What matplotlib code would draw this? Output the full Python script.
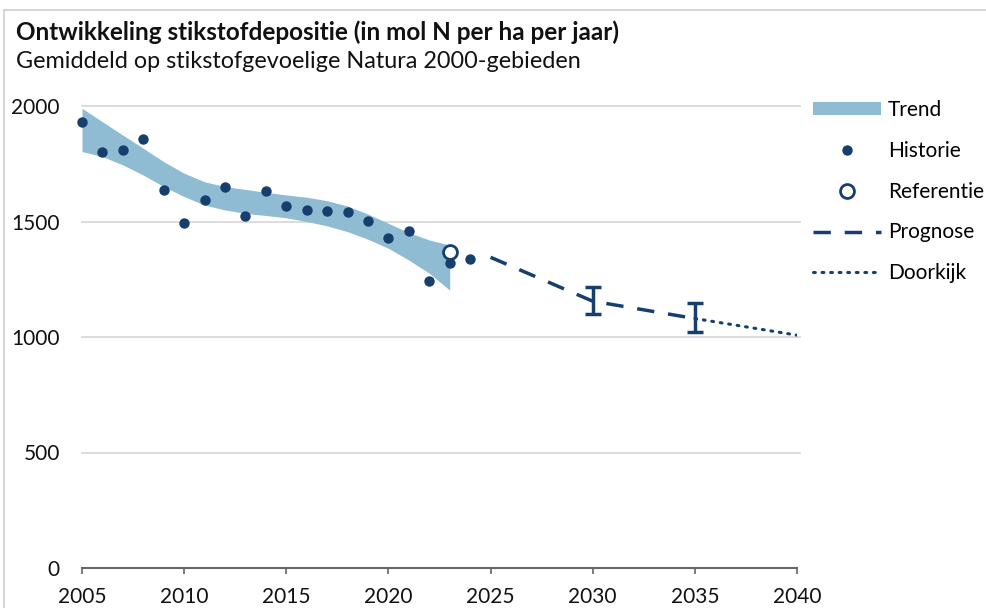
import numpy as np
import matplotlib.pyplot as plt
from matplotlib.lines import Line2D
from matplotlib.patches import Patch

plt.rcParams['font.family'] = ['Lato', 'DejaVu Sans']

# historie
hist_jaar = [2005, 2006, 2007, 2008, 2009, 2010, 2011, 2012, 2013, 2014, 2015,
             2016, 2017, 2018, 2019, 2020, 2021, 2022, 2023, 2024]
hist_waarde = [1929, 1802, 1810, 1856, 1638, 1495, 1593, 1649, 1525, 1631, 1566,
               1548, 1544, 1543, 1504, 1429, 1457, 1242, 1319, 1338]

# trendband
trend_jaar = list(range(2005, 2024))
trend_boven = [1990, 1932, 1874, 1817, 1759, 1709, 1672, 1651, 1639, 1626,
               1615, 1605, 1590, 1567, 1532, 1492, 1452, 1420, 1398]
trend_onder = [1803, 1781, 1745, 1701, 1651, 1608, 1571, 1550, 1535, 1526,
               1516, 1500, 1481, 1456, 1423, 1384, 1333, 1276, 1203]

# referentie
ref_jaar = [2023]
ref_waarde = [1369]

# prognose + onzekerheid
prog_jaar = [2025, 2030, 2035]
prog_waarde = [1345, 1155, 1080]
err_jaar = [2030, 2035]
err_midden = [1158, 1085]
err_laag = [1098, 1023]
err_hoog = [1218, 1148]

# doorkijk
door_jaar = [2035, 2040]
door_waarde = [1080, 1008]

navy = '#173f6e'
band = '#8fbcd3'
grid = '#d9d9d9'

fig = plt.figure(figsize=(9.87, 6.08), dpi=100)
ax = fig.add_axes([82/987, 1 - 568/608, 715/987, 462/608])

for v in [500, 1000, 1500, 2000]:
    ax.axhline(v, color=grid, lw=1.3, zorder=0, xmax=718/715, clip_on=False)

ax.fill_between(trend_jaar, trend_onder, trend_boven, color=band, lw=0, zorder=1)
ax.plot(prog_jaar, prog_waarde, color=navy, lw=2.5, dashes=(5, 4), zorder=2)
ax.plot(door_jaar, door_waarde, color=navy, lw=2.2, dashes=(0.6, 2.2),
        dash_capstyle='round', zorder=2)
yerr = [np.array(err_midden) - np.array(err_laag), np.array(err_hoog) - np.array(err_midden)]
ax.errorbar(err_jaar, err_midden, yerr=yerr, fmt='none', ecolor=navy,
            elinewidth=2.5, capsize=6, capthick=2.5, zorder=3)
ax.plot(hist_jaar, hist_waarde, 'o', color=navy, ms=7.5, mec='none', zorder=4, clip_on=False)
ax.plot(ref_jaar, ref_waarde, 'o', mfc='white', mec=navy, mew=2, ms=10, zorder=5)

ax.set_xlim(2005, 2040)
ax.set_ylim(0, 2000)
ax.set_xticks(range(2005, 2041, 5))
ax.set_yticks([0, 500, 1000, 1500, 2000])
for s in ['top', 'right', 'left']:
    ax.spines[s].set_visible(False)
ax.spines['bottom'].set_color('#666666')
ax.spines['bottom'].set_linewidth(1.5)
ax.tick_params(axis='x', length=4.5, width=1.2, color='#666666', pad=9,
               labelsize=15, labelcolor='#111111')
ax.tick_params(axis='y', length=0, pad=16, labelsize=15, labelcolor='#111111')

fig.text(16/987, 1 - 32/608, 'Ontwikkeling stikstofdepositie (in mol N per ha per jaar)',
         fontsize=17.5, fontweight='bold', va='center', ha='left', color='#111111')
fig.text(16/987, 1 - 62/608, 'Gemiddeld op stikstofgevoelige Natura 2000-gebieden',
         fontsize=16.8, va='center', ha='left', color='#111111')

# kader
fig.add_artist(Line2D([4/987, 1], [1 - 10/608, 1 - 10/608], color='#d0d0d0', lw=1.2))
fig.add_artist(Line2D([4/987, 4/987], [0, 1 - 10/608], color='#d0d0d0', lw=1.2))

handles = [
    Patch(facecolor=band, edgecolor='none'),
    Line2D([], [], ls='none', marker='o', color=navy, ms=7.5, mec='none'),
    Line2D([], [], ls='none', marker='o', mfc='white', mec=navy, mew=2, ms=10),
    Line2D([], [], color=navy, lw=2.5, dashes=(5, 4)),
    Line2D([], [], color=navy, lw=2.2, dashes=(0.6, 2.2), dash_capstyle='round'),
]
labels = ['Trend', 'Historie', 'Referentie', 'Prognose', 'Doorkijk']
fig.legend(handles, labels, loc='upper left', bbox_to_anchor=(813/987, 1 - 100/608),
           frameon=False, fontsize=15, handlelength=3.27, handleheight=0.6,
           handletextpad=0.34, labelspacing=1.0, borderaxespad=0, borderpad=0)

fig.savefig('out.png', dpi=100)
